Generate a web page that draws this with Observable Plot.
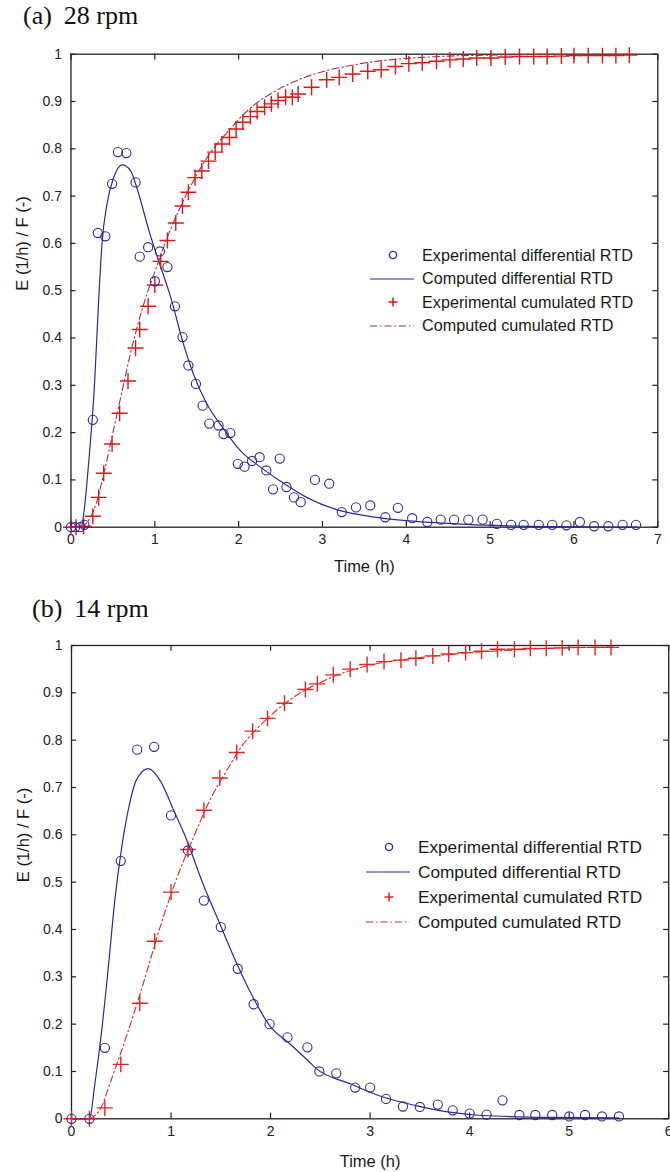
<!DOCTYPE html>
<html>
<head>
<meta charset="utf-8">
<script src="https://cdn.jsdelivr.net/npm/d3@7"></script>
<script src="https://cdn.jsdelivr.net/npm/@observablehq/plot@0.6"></script>
<style>
  html, body { margin: 0; padding: 0; background: #fff; }
  #root { position: relative; width: 670px; height: 1172px; overflow: hidden; font-family: "Liberation Sans", Arial, sans-serif; }
  .panel { position: absolute; left: 0; z-index: 1; }
  .title { position: absolute; z-index: 2; font-family: "Liberation Serif", "Times New Roman", serif; font-size: 26px; color: #111; white-space: nowrap; }
  .title .rest { margin-left: 12px; }
  .legend { position: absolute; z-index: 2; font-family: "Liberation Sans", Arial, sans-serif; color: #1a1a1a; }
  .legend .row { position: absolute; left: 0; height: 20px; white-space: nowrap; display: flex; align-items: center; }
  .legend svg { display: block; }
</style>
</head>
<body>
<div id="root"></div>
<script>
// ---------- Panel (a) 28 rpm ----------
const aExpET = [0,0.05,0.11,0.16,0.26,0.32,0.41,0.49,0.56,0.66,0.77,0.82,0.92,1.0,1.06,1.15,1.24,1.33,1.40,1.49,1.57,1.65,1.76,1.82,1.90,1.99,2.07,2.16,2.25,2.33,2.41,2.49,2.57,2.66,2.74,2.91,3.08,3.23,3.40,3.57,3.75,3.90,4.07,4.25,4.41,4.57,4.74,4.91,5.08,5.25,5.40,5.58,5.74,5.91,6.07,6.24,6.41,6.58,6.74];
const aExpE  = [0,0,0,0.005,0.227,0.622,0.615,0.726,0.793,0.791,0.729,0.572,0.592,0.52,0.583,0.55,0.467,0.402,0.342,0.303,0.257,0.219,0.215,0.197,0.199,0.134,0.128,0.14,0.148,0.12,0.08,0.145,0.085,0.063,0.053,0.1,0.092,0.032,0.042,0.046,0.021,0.041,0.019,0.011,0.016,0.016,0.016,0.016,0.007,0.005,0.005,0.005,0.005,0.004,0.011,0.002,0.002,0.005,0.005];
const aExpFT = [0,0.06,0.15,0.26,0.33,0.39,0.49,0.58,0.68,0.77,0.82,0.92,1.0,1.07,1.15,1.25,1.33,1.40,1.48,1.56,1.64,1.72,1.80,1.89,1.97,2.05,2.14,2.22,2.31,2.39,2.47,2.56,2.64,2.71,2.87,3.05,3.20,3.36,3.54,3.70,3.87,4.03,4.19,4.36,4.52,4.68,4.84,5.01,5.18,5.35,5.52,5.68,5.85,6.00,6.17,6.34,6.50,6.66];
const aExpF  = [0,0,0.002,0.023,0.063,0.114,0.176,0.241,0.309,0.379,0.418,0.467,0.512,0.562,0.606,0.643,0.679,0.708,0.739,0.753,0.774,0.793,0.81,0.824,0.842,0.856,0.868,0.879,0.888,0.895,0.902,0.909,0.909,0.916,0.93,0.946,0.951,0.958,0.964,0.967,0.974,0.98,0.982,0.985,0.988,0.99,0.992,0.992,0.994,0.995,0.995,0.995,0.996,0.997,0.997,0.997,0.997,0.998];
const aModT  = [0,0.12,0.16,0.21,0.28,0.33,0.37,0.43,0.51,0.61,0.71,0.79,0.93,1.07,1.19,1.34,1.46,1.62,1.82,2.02,2.26,2.5,2.81,3.21,3.6,3.93,4.3,4.72,5.2,6.0,6.75];
const aModE  = [0,0,0.04,0.135,0.3,0.48,0.6,0.684,0.74,0.766,0.754,0.715,0.627,0.55,0.486,0.388,0.324,0.261,0.208,0.162,0.127,0.097,0.063,0.035,0.022,0.015,0.01,0.006,0.003,0.001,0];
const aModFT = [0.12,0.2,0.3,0.4,0.5,0.6,0.7,0.8,0.9,1.0,1.1,1.2,1.3,1.4,1.5,1.6,1.75,1.9,2.0,2.2,2.4,2.6,2.8,3.0,3.3,3.6,4.0,4.5,5.0,6.0,6.75];
const aModF  = [0,0.012,0.05,0.12,0.2,0.28,0.36,0.43,0.49,0.54,0.59,0.635,0.675,0.712,0.745,0.775,0.812,0.842,0.862,0.895,0.918,0.937,0.952,0.963,0.975,0.984,0.991,0.996,0.998,1,1];

// ---------- Panel (b) 14 rpm ----------
const bExpET = [0,0.18,0.335,0.495,0.66,0.83,1.0,1.17,1.33,1.50,1.67,1.83,1.99,2.17,2.37,2.49,2.66,2.85,3.0,3.16,3.33,3.50,3.68,3.83,4.0,4.17,4.33,4.50,4.66,4.83,5.0,5.16,5.33,5.50];
const bExpE  = [0,0,0.15,0.545,0.78,0.786,0.641,0.567,0.461,0.405,0.317,0.242,0.2,0.172,0.151,0.1,0.096,0.066,0.066,0.042,0.026,0.025,0.03,0.018,0.011,0.009,0.039,0.008,0.008,0.008,0.005,0.008,0.005,0.005];
const bExpFT = [0,0.18,0.335,0.495,0.686,0.836,1.0,1.17,1.33,1.49,1.66,1.82,1.97,2.14,2.35,2.47,2.63,2.80,2.97,3.14,3.31,3.46,3.63,3.79,3.96,4.12,4.28,4.45,4.61,4.77,4.93,5.09,5.26,5.42];
const bExpF  = [0,0,0.023,0.115,0.244,0.375,0.479,0.569,0.652,0.72,0.774,0.819,0.846,0.878,0.907,0.919,0.938,0.95,0.96,0.966,0.969,0.973,0.978,0.982,0.985,0.988,0.992,0.992,0.994,0.994,0.995,0.996,0.996,0.996];
const bModT  = [0,0.18,0.235,0.3,0.37,0.435,0.5,0.57,0.65,0.77,0.89,1.02,1.16,1.32,1.49,1.66,1.83,1.99,2.19,2.39,2.46,2.8,3.13,3.46,3.8,4.13,4.8,5.5];
const bModE  = [0,0,0.074,0.18,0.32,0.461,0.567,0.652,0.715,0.74,0.715,0.655,0.588,0.497,0.412,0.328,0.254,0.197,0.159,0.12,0.106,0.074,0.046,0.028,0.014,0.007,0.003,0.002];
const bModFT = [0.18,0.3,0.385,0.55,0.72,0.89,1.05,1.22,1.39,1.56,1.72,1.9,2.1,2.3,2.5,2.7,2.9,3.1,3.4,3.7,4.0,4.4,4.8,5.2,5.45];
const bModF  = [0,0.025,0.074,0.173,0.285,0.405,0.504,0.592,0.673,0.736,0.79,0.832,0.87,0.9,0.922,0.94,0.953,0.963,0.972,0.979,0.985,0.99,0.994,0.996,0.997];

const yTicks = [0,0.1,0.2,0.3,0.4,0.5,0.6,0.7,0.8,0.9,1];
const aXTicks = [0,1,2,3,4,5,6,7];
const bXTicks = [0,1,2,3,4,5,6];

const xLabel = "Time (h)";
const yLabel = "E (1/h) / F (-)";
const legendLabels = ["Experimental differential RTD","Computed differential RTD","Experimental cumulated RTD","Computed cumulated RTD"];

const blue = "#2b2b96";
const zip = (xs, ys) => xs.map((x, i) => ({x, y: ys[i]}));

function panel(cfg) {
  const xMax = cfg.xMax;
  const tickLenX = xMax * 0.0085;
  return Plot.plot({
    width: 670,
    height: cfg.height,
    marginTop: cfg.mt, marginBottom: cfg.mb, marginLeft: cfg.ml, marginRight: cfg.mr,
    style: {fontFamily: "Liberation Sans, Arial, sans-serif", background: "#fff", overflow: "visible"},
    x: {domain: [0, xMax]},
    y: {domain: [0, 1]},
    marks: [
      Plot.axisX(cfg.xTicks, {tickSize: 0, tickPadding: 7, tickFormat: d => String(d), fontSize: 14, fill: "#222", label: null}),
      Plot.axisY(yTicks, {tickSize: 0, tickPadding: 9, tickFormat: d => String(+d.toFixed(1)), fontSize: 14, fill: "#222", label: null}),
      Plot.text([xLabel], {frameAnchor: "bottom", dy: cfg.xLabelDy, fontSize: 16.5, fill: "#1a1a1a", text: d => d}),
      Plot.text([yLabel], {frameAnchor: "left", dx: -48, rotate: -90, fontSize: 16.5, fill: "#1a1a1a", text: d => d}),
      Plot.frame({stroke: "#222", strokeWidth: 1.3}),
      Plot.ruleX(cfg.xTicks, {y1: 0, y2: 0.012, stroke: "#222", strokeWidth: 1.2}),
      Plot.ruleX(cfg.xTicks, {y1: 1, y2: 0.988, stroke: "#222", strokeWidth: 1.2}),
      Plot.ruleY(yTicks, {x1: 0, x2: tickLenX, stroke: "#222", strokeWidth: 1.2}),
      Plot.ruleY(yTicks, {x1: xMax, x2: xMax - tickLenX, stroke: "#222", strokeWidth: 1.2}),
      Plot.line(zip(cfg.modFT, cfg.modF), {x: "x", y: "y", stroke: cfg.fLineColor, strokeWidth: 1.1, strokeDasharray: "7,3,1.5,3", curve: "monotone-x"}),
      Plot.line(zip(cfg.modT, cfg.modE), {x: "x", y: "y", stroke: blue, strokeWidth: 1.2, curve: "monotone-x"}),
      Plot.dot(zip(cfg.expFT, cfg.expF), {x: "x", y: "y", symbol: "plus", r: 5.2, stroke: cfg.plusColor, strokeWidth: 1.4}),
      Plot.dot(zip(cfg.expET, cfg.expE), {x: "x", y: "y", symbol: "circle", r: 4.6, stroke: blue, strokeWidth: 1.1, fill: "none"})
    ]
  });
}

function legend(left, top, spacing, fontSize, fLineColor, plusColor) {
  const lg = document.createElement("div");
  lg.className = "legend";
  lg.style.left = left + "px";
  lg.style.top = top + "px";
  lg.style.fontSize = fontSize + "px";
  const syms = [
    `<svg width="46" height="20"><circle cx="23" cy="10" r="3.6" fill="none" stroke="${blue}" stroke-width="1.4"/></svg>`,
    `<svg width="46" height="20"><line x1="0" y1="10" x2="44" y2="10" stroke="${blue}" stroke-width="1.2"/></svg>`,
    `<svg width="46" height="20"><path d="M23,5.5V14.5M18.5,10H27.5" stroke="${plusColor}" stroke-width="1.5"/></svg>`,
    `<svg width="46" height="20"><line x1="0" y1="10" x2="44" y2="10" stroke="${fLineColor}" stroke-width="1.2" stroke-dasharray="7,3,1.5,3"/></svg>`
  ];
  legendLabels.forEach((t, i) => {
    const r = document.createElement("div");
    r.className = "row";
    r.style.top = (i * spacing) + "px";
    r.innerHTML = syms[i] + `<span style="margin-left:6px">${t}</span>`;
    lg.appendChild(r);
  });
  return lg;
}

function title(tag, rest, left, top) {
  const t = document.createElement("div");
  t.className = "title";
  t.innerHTML = `${tag}<span class="rest">${rest}</span>`;
  t.style.left = left + "px";
  t.style.top = top + "px";
  return t;
}

const root = document.getElementById("root");

// Panel a
const pa = panel({height: 590, mt: 53.7, mb: 63.3, ml: 70.5, mr: 12.7, xMax: 7, xTicks: aXTicks, xLabelDy: 45,
  expET: aExpET, expE: aExpE, expFT: aExpFT, expF: aExpF, modT: aModT, modE: aModE, modFT: aModFT, modF: aModF,
  fLineColor: "#a3324f", plusColor: "#e01515"});
pa.classList.add("panel"); pa.style.top = "0px";
root.appendChild(pa);
root.appendChild(legend(370, 245, 23.5, 16.2, "#a3324f", "#e01515"));
root.appendChild(title("(a)", "28 rpm", 23, 1));

// Panel b
const pb = panel({height: 582, mt: 55, mb: 53.7, ml: 71, mr: 1.8, xMax: 6, xTicks: bXTicks, xLabelDy: 48,
  expET: bExpET, expE: bExpE, expFT: bExpFT, expF: bExpF, modT: bModT, modE: bModE, modFT: bModFT, modF: bModF,
  fLineColor: "#e52525", plusColor: "#e52525"});
pb.classList.add("panel"); pb.style.top = "590px";
root.appendChild(pb);
root.appendChild(legend(366, 837, 25, 17.2, "#e52525", "#e52525"));
root.appendChild(title("(b)", "14 rpm", 32, 594));
</script>
</body>
</html>
